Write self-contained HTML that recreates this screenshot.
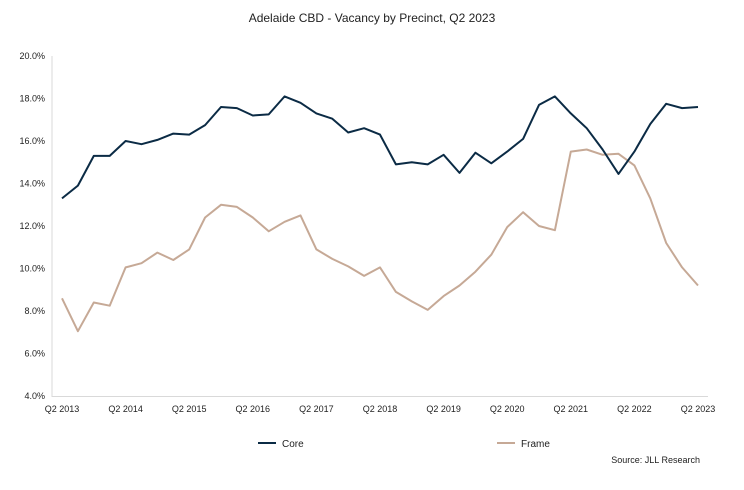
<!DOCTYPE html>
<html><head><meta charset="utf-8"><style>
body{margin:0;background:#fff;font-family:"Liberation Sans",sans-serif;}
svg text{font-family:"Liberation Sans",sans-serif;fill:#222;}
</style></head><body>
<svg width="744" height="485" id="chart">
<text x="372" y="22" text-anchor="middle" font-size="12">Adelaide CBD - Vacancy by Precinct, Q2 2023</text>
<g id="axes"></g>
<g id="series"></g>
<g>
<line x1="258" y1="443" x2="276" y2="443" stroke="#0b2b45" stroke-width="2"/>
<text x="282" y="447" font-size="10">Core</text>
<line x1="497" y1="443" x2="515" y2="443" stroke="#c6a996" stroke-width="2"/>
<text x="521" y="447" font-size="10">Frame</text>
</g>
<text x="700" y="463" text-anchor="end" font-size="9">Source: JLL Research</text>
</svg>
<script>
const quarters=[];for(let y=2013;y<=2023;y++){for(const q of [2,3,4,1]){const yr=q===1?y+1:y;if(quarters.length<41)quarters.push('Q'+q+' '+yr);}}
const coreValues=[13.3,13.9,15.3,15.3,16.0,15.85,16.05,16.35,16.3,16.75,17.6,17.55,17.2,17.25,18.1,17.8,17.3,17.05,16.4,16.6,16.3,14.9,15.0,14.9,15.35,14.5,15.45,14.95,15.5,16.1,17.7,18.1,17.3,16.6,15.6,14.45,15.5,16.8,17.75,17.55,17.6];
const frameValues=[8.6,7.05,8.4,8.25,10.05,10.25,10.75,10.4,10.9,12.4,13.0,12.9,12.4,11.75,12.2,12.5,10.9,10.45,10.1,9.65,10.05,8.9,8.45,8.05,8.7,9.2,9.85,10.65,11.95,12.65,12.0,11.8,15.5,15.6,15.35,15.4,14.85,13.3,11.2,10.05,9.2];
const yTicks=[4,6,8,10,12,14,16,18,20];
const xLabels=['Q2 2013','Q2 2014','Q2 2015','Q2 2016','Q2 2017','Q2 2018','Q2 2019','Q2 2020','Q2 2021','Q2 2022','Q2 2023'];
const NS='http://www.w3.org/2000/svg';
const x0=62,x1=698,y0=396,y1=56,yMin=4,yMax=20;
const n=coreValues.length;
function xs(i){return x0+(x1-x0)*i/(n-1);}
function ys(v){return y0-(v-yMin)/(yMax-yMin)*(y0-y1);}
const axes=document.getElementById('axes'),series=document.getElementById('series');
function mk(t,a,p){const e=document.createElementNS(NS,t);for(const k in a)e.setAttribute(k,a[k]);p.appendChild(e);return e;}
let ax=mk('line',{x1:52,y1:56,x2:52,y2:397,stroke:'#d9d9d9','stroke-width':1},axes);


let bx=mk('line',{x1:52,y1:396.5,x2:708,y2:396.5,stroke:'#d9d9d9','stroke-width':1},axes);


yTicks.forEach(v=>{const t=mk('text',{x:45,y:ys(v)+3,'text-anchor':'end','font-size':9},axes);t.textContent=v.toFixed(1)+'%';

});
xLabels.forEach((l,k)=>{const t=mk('text',{x:xs(k*4),y:412,'text-anchor':'middle','font-size':9},axes);t.textContent=l;

});
function line(vals,color,name){const d=vals.map((v,i)=>(i?'L':'M')+xs(i).toFixed(1)+','+ys(v).toFixed(1)).join('');
const p=mk('path',{d:d,fill:'none',stroke:color,'stroke-width':2,'stroke-linejoin':'round'},series);

}
line(frameValues,'#c6a996','frame-line');
line(coreValues,'#0b2b45','core-line');
</script>
</body></html>
